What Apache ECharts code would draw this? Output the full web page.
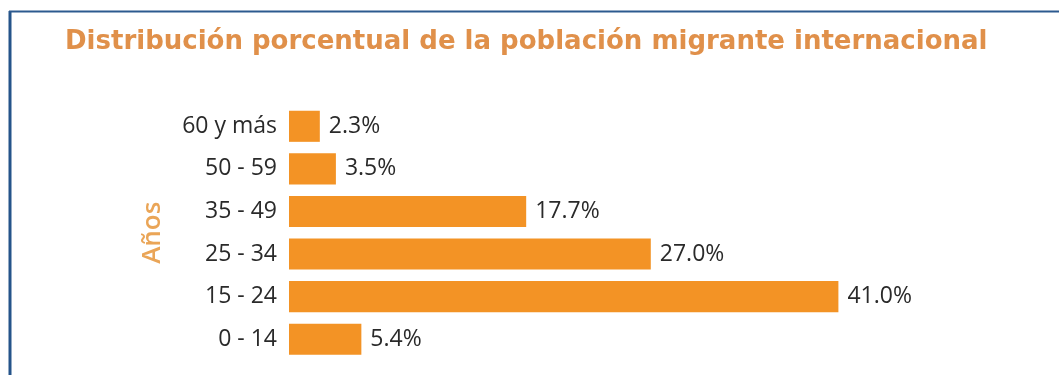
<!DOCTYPE html>
<html>
<head>
<meta charset="utf-8">
<script src="https://cdn.jsdelivr.net/npm/echarts@6/dist/echarts.min.js"></script>
<style>
html,body{margin:0;padding:0;background:#fff;}
#main{width:1059px;height:375px;}
</style>
</head>
<body>
<div id="main"></div>
<script>
const titleText = 'Distribución porcentual de la población migrante internacional';
const axisName = 'Años';
const categories = ['60 y más', '50 - 59', '35 - 49', '25 - 34', '15 - 24', '0 - 14'];
const values = [2.3, 3.5, 17.7, 27.0, 41.0, 5.4];

const chart = echarts.init(document.getElementById('main'), null, {renderer: 'canvas'});
chart.setOption({
  animation: false,
  backgroundColor: '#ffffff',
  title: {
    text: titleText,
    left: 60,
    top: 24,
    textStyle: {
      fontFamily: 'DejaVu Sans',
      fontWeight: 'bold',
      fontSize: 26,
      color: '#e0904a'
    }
  },
  graphic: [
    {type: 'line', shape: {x1: 10, y1: 11, x2: 10, y2: 375}, style: {stroke: '#25548a', lineWidth: 3}},
    {type: 'line', shape: {x1: 9, y1: 11.5, x2: 1059, y2: 11.5}, style: {stroke: '#2c5a8f', lineWidth: 2}}
  ],
  grid: {left: 289, top: 105, right: 100, bottom: 14.5, containLabel: false},
  xAxis: {
    type: 'value',
    min: 0,
    max: 50,
    show: false
  },
  yAxis: {
    type: 'category',
    data: categories,
    inverse: true,
    name: axisName,
    nameLocation: 'middle',
    nameGap: 123,
    nameRotate: 90,
    nameTextStyle: {
      fontFamily: 'Open Sans',
      fontWeight: 600,
      fontSize: 26,
      color: '#eaa557'
    },
    axisLine: {show: false},
    axisTick: {show: false},
    axisLabel: {
      margin: 12,
      fontFamily: 'Open Sans',
      fontSize: 23,
      color: '#2a2a2a'
    }
  },
  series: [{
    type: 'bar',
    data: values,
    barCategoryGap: '27%',
    itemStyle: {color: '#f39325'},
    label: {
      show: true,
      position: 'right',
      distance: 9,
      fontFamily: 'Open Sans',
      fontSize: 23,
      color: '#2a2a2a',
      formatter: p => p.value.toFixed(1) + '%'
    }
  }]
});
</script>
</body>
</html>
